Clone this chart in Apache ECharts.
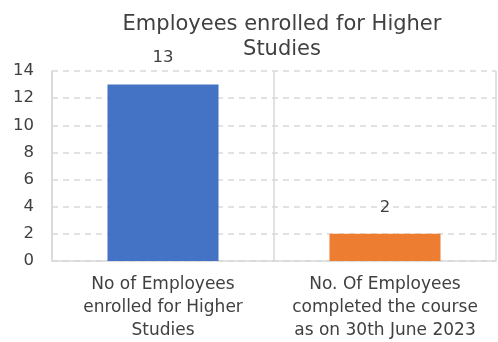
<!DOCTYPE html>
<html>
<head>
<meta charset="utf-8">
<script src="https://cdn.jsdelivr.net/npm/echarts@6/dist/echarts.min.js"></script>
<style>
  html, body { margin: 0; padding: 0; background: #fff; }
  #chart { width: 498px; height: 342px; }
</style>
</head>
<body>
<div id="chart"></div>
<script>
// Headcount figures for the higher-studies programme
const categories = [
  'No of Employees\nenrolled for Higher\nStudies',
  'No. Of Employees\ncompleted the course\nas on 30th June 2023'
];
const values = [13, 2];
const barColors = ['#4472C4', '#ED7D31'];
const yTicks = { min: 0, max: 14, interval: 2 };

const FONT = 'DejaVu Sans';
const TEXT = '#404040';

const chart = echarts.init(document.getElementById('chart'), null, { renderer: 'canvas' });
chart.setOption({
  animation: false,
  title: {
    text: 'Employees enrolled for Higher\nStudies',
    left: 277, top: 7, textAlign: 'center',
    textStyle: { fontFamily: FONT, fontSize: 21, fontWeight: 'normal', color: TEXT, lineHeight: 25 }
  },
  grid: { left: 52, right: 2, top: 71, bottom: 81 },
  xAxis: {
    type: 'category',
    data: categories,
    axisLine: { show: true, lineStyle: { color: '#d9d9d9', width: 1.5 } },
    axisTick: { show: false },
    splitLine: { show: true, lineStyle: { color: '#d9d9d9', width: 1.5 } },
    axisLabel: { fontFamily: FONT, fontSize: 17, color: TEXT, lineHeight: 23, margin: 12, interval: 0 }
  },
  yAxis: {
    type: 'value',
    min: yTicks.min, max: yTicks.max, interval: yTicks.interval,
    axisLine: { show: true, lineStyle: { color: '#d9d9d9', width: 1.5 } },
    axisTick: { show: false },
    splitLine: { show: true, lineStyle: { color: '#d9d9d9', type: [6, 5], width: 1.5 } },
    axisLabel: { fontFamily: FONT, fontSize: 16.5, color: TEXT, margin: 18 }
  },
  series: [{
    type: 'bar',
    barWidth: '50%',
    data: values.map((v, i) => ({ value: v, itemStyle: { color: barColors[i] } })),
    label: { show: true, position: 'top', distance: 18, fontFamily: FONT, fontSize: 16.5, color: TEXT }
  }]
});
</script>
</body>
</html>
